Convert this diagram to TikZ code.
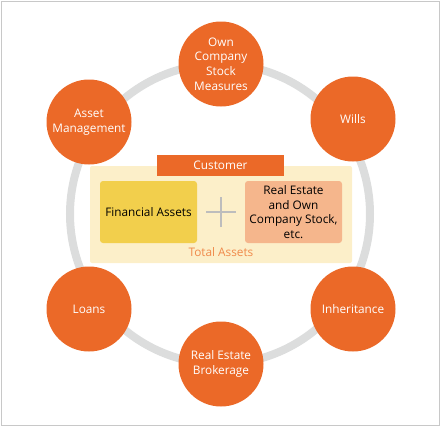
\documentclass[tikz,border=0pt]{standalone}
\usepackage{fontspec}
\setmainfont{Open Sans}
\definecolor{orng}{HTML}{EB6928}
\definecolor{panel}{HTML}{FCEFC9}
\definecolor{finbox}{HTML}{F2CF4C}
\definecolor{rebox}{HTML}{F5B68C}
\definecolor{ringgray}{HTML}{DCDDDD}
\definecolor{plusgray}{HTML}{BDBDBD}
\definecolor{totaltxt}{HTML}{F08A4B}
\definecolor{framegray}{HTML}{C8C8C8}
\begin{document}
\begin{tikzpicture}[x=1pt,y=-1pt,
  svc/.style={circle,fill=orng,minimum size=85pt,inner sep=0pt,text=white,align=center,font=\fontsize{11.8}{14.7}\selectfont},
  assetbox/.style={rounded corners=3pt,minimum width=97pt,minimum height=62pt,inner sep=0pt,align=center,font=\fontsize{11.8}{14.7}\selectfont}]
\useasboundingbox (0,0) rectangle (440,426);
\draw[framegray,line width=1pt] (1,1) rectangle (439,425);
\node[circle,draw=ringgray,line width=8pt,minimum size=300pt,inner sep=0pt] (ring) at (220,214) {};
\node[svc] (stock) at (221,64) {Own\\Company\\Stock\\Measures};
\node[svc] (assetmgmt) at (89,122) {Asset\\Management};
\node[svc] (wills) at (353,119) {Wills};
\node[svc] (loans) at (89,309) {Loans};
\node[svc] (inherit) at (353,309) {Inheritance};
\node[svc] (brokerage) at (221,364) {Real Estate\\Brokerage};
\node[fill=panel,rounded corners=2pt,minimum width=262pt,minimum height=97pt,inner sep=0pt] (panel) at (221,214.5) {};
\node[fill=orng,minimum width=127pt,minimum height=21pt,inner sep=0pt,text=white,font=\fontsize{11.8}{13}\selectfont] (customer) at (220.5,165.5) {Customer};
\node[assetbox,fill=finbox] (fin) at (148.5,212) {Financial Assets};
\node[assetbox,fill=rebox] (realestate) at (293.5,212) {Real Estate\\and Own\\Company Stock,\\etc.};
\coordinate (plus) at (221,212);
\draw[plusgray,line width=1.3pt] ([xshift=-15pt]plus) -- ([xshift=15pt]plus) ([yshift=-15pt]plus) -- ([yshift=15pt]plus);
\node[text=totaltxt,font=\fontsize{11.8}{13}\selectfont,inner sep=0pt] (total) at (221,252.5) {Total Assets};
\end{tikzpicture}
\end{document}
